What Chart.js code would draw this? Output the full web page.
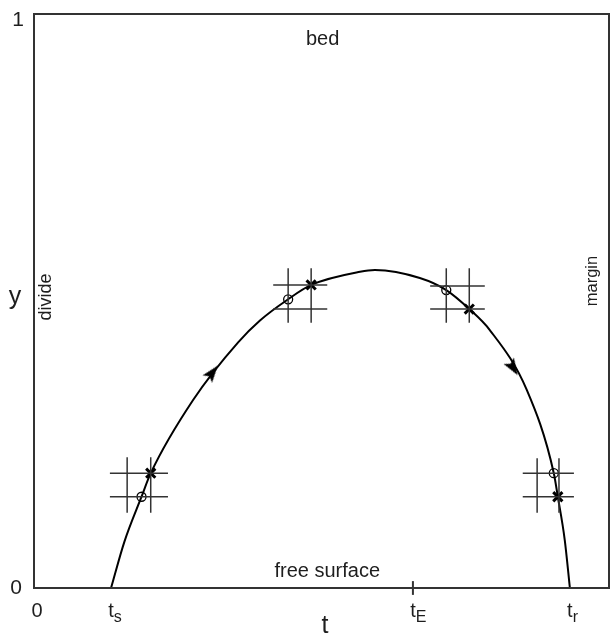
<!DOCTYPE html>
<html>
<head>
<meta charset="utf-8">
<script src="https://cdn.jsdelivr.net/npm/chart.js@4.4.1/dist/chart.umd.min.js"></script>
<style>
  html, body { margin: 0; padding: 0; background: #fff; }
  canvas { display: block; }
</style>
</head>
<body>
<canvas id="traj" width="610" height="637"></canvas>
<script>
/**
 * Particle path through the ice column: t along the flow, y from surface to bed.
 */
const curveT = [0.134, 0.157, 0.187, 0.203, 0.277, 0.355, 0.393, 0.442, 0.482, 0.567, 0.593, 0.671, 0.717, 0.757, 0.793, 0.857, 0.904, 0.911, 0.923, 0.932];
const curveY = [0.000, 0.080, 0.159, 0.200, 0.328, 0.428, 0.466, 0.503, 0.528, 0.551, 0.554, 0.540, 0.519, 0.486, 0.449, 0.345, 0.200, 0.159, 0.084, 0.000];

// open circles and crosses on the path
const circleT = [0.187, 0.442, 0.717, 0.904];
const circleY = [0.159, 0.503, 0.519, 0.200];
const crossT = [0.203, 0.482, 0.757, 0.911];
const crossY = [0.200, 0.528, 0.486, 0.159];

// direction arrows (rotation in degrees, clockwise from up)
const arrowT = [0.310, 0.833];
const arrowY = [0.375, 0.384];
const arrowRot = [38, 148];

// little grids around each pair: two vertical and two horizontal lines
const gridColsT = [[0.162, 0.203], [0.442, 0.482], [0.717, 0.757], [0.875, 0.913]];
const gridColsY = [[0.131, 0.228], [0.462, 0.557], [0.462, 0.557], [0.131, 0.226]];
const gridRowsY = [[0.159, 0.200], [0.486, 0.528], [0.486, 0.526], [0.159, 0.200]];
const gridRowsT = [[0.132, 0.233], [0.416, 0.510], [0.689, 0.784], [0.850, 0.939]];

// axis ticks
const xTickValues = [0, 0.134, 0.659, 0.932, 1];
const xTickMain = ['0', 't', 't', 't', '1'];
const xTickSub = ['', 's', 'E', 'r', ''];
const yTickValues = [0, 1];
const yTickNames = ['0', '1'];
const tickMarkT = 0.659;

const FONT = '"Liberation Sans", Arial, sans-serif';
const INK = '#1e1e1e';

function pts(xs, ys) {
  return xs.map((x, i) => ({ x, y: ys[i] }));
}

function gridSegments() {
  const out = [];
  gridColsT.forEach((cols, i) => {
    cols.forEach(x => {
      out.push({ x, y: gridColsY[i][0] }, { x, y: gridColsY[i][1] }, { x, y: null });
    });
    gridRowsY[i].forEach(y => {
      out.push({ x: gridRowsT[i][0], y }, { x: gridRowsT[i][1], y }, { x: gridRowsT[i][1], y: null });
    });
  });
  return out;
}

/**
 * Arrowhead sprite pointing up, used as pointStyle.
 */
function arrowSprite() {
  const c = document.createElement('canvas');
  c.width = 14; c.height = 18;
  const g = c.getContext('2d');
  g.fillStyle = '#000';
  g.beginPath();
  g.moveTo(7, 0);
  g.lineTo(13, 17);
  g.lineTo(7, 13.5);
  g.lineTo(1, 17);
  g.closePath();
  g.fill();
  return c;
}

function drawText(ctx, txt, x, y, size, align, rot) {
  ctx.save();
  ctx.translate(x, y);
  if (rot) ctx.rotate(rot);
  ctx.font = size + 'px ' + FONT;
  ctx.fillStyle = INK;
  ctx.textAlign = align || 'center';
  ctx.textBaseline = 'middle';
  ctx.fillText(txt, 0, 0);
  ctx.restore();
}

/**
 * Frame, tick labels and the region names.
 */
const decorPlugin = {
  id: 'decor',
  afterDatasetsDraw(chart) {
    const { ctx, chartArea: a } = chart;
    const xs = chart.scales.x;
    const ys = chart.scales.y;
    ctx.save();
    ctx.strokeStyle = '#333';
    ctx.lineWidth = 2;
    ctx.strokeRect(a.left, a.top, a.right - a.left, a.bottom - a.top);

    // x tick labels with subscripts
    xTickValues.forEach((v, i) => {
      let px = xs.getPixelForValue(v);
      if (v === 0) px += 3;
      if (v === 1) px += 6;
      const base = a.bottom + 29;
      ctx.font = '20px ' + FONT;
      ctx.fillStyle = INK;
      ctx.textAlign = 'center';
      ctx.textBaseline = 'alphabetic';
      ctx.fillText(xTickMain[i], px, base);
      if (xTickSub[i]) {
        const w = ctx.measureText(xTickMain[i]).width;
        ctx.font = '16px ' + FONT;
        ctx.textAlign = 'left';
        ctx.fillText(xTickSub[i], px + w / 2, base + 5);
      }
    });
    yTickValues.forEach((v, i) => {
      const py = ys.getPixelForValue(v);
      drawText(ctx, yTickNames[i], v === 1 ? 18 : 16, v === 1 ? py + 6 : py, 21);
    });

    drawText(ctx, 't', xs.getPixelForValue(0.506), a.bottom + 38, 25);
    drawText(ctx, 'y', 15, 297, 25);
    drawText(ctx, 'bed', xs.getPixelForValue(0.502), a.top + 25, 20);
    drawText(ctx, 'free surface', xs.getPixelForValue(0.510), a.bottom - 17, 20);
    drawText(ctx, 'divide', a.left + 12, 297, 18, 'center', -Math.PI / 2);
    drawText(ctx, 'margin', a.right - 17, 281, 16.5, 'center', -Math.PI / 2);
    ctx.restore();
  }
};

new Chart(document.getElementById('traj'), {
  type: 'scatter',
  data: {
    datasets: [
      {
        data: gridSegments(),
        showLine: true,
        spanGaps: false,
        borderColor: '#333',
        borderWidth: 1.5,
        pointRadius: 0,
        tension: 0
      },
      {
        data: pts(curveT, curveY),
        showLine: true,
        borderColor: '#000',
        borderWidth: 2,
        pointRadius: 0,
        cubicInterpolationMode: 'monotone'
      },
      {
        data: [{ x: tickMarkT, y: -0.012 }, { x: tickMarkT, y: 0.012 }],
        showLine: true,
        clip: false,
        borderColor: '#333',
        borderWidth: 2,
        pointRadius: 0
      },
      {
        data: pts(circleT, circleY),
        pointStyle: 'circle',
        pointRadius: 4.5,
        borderColor: '#000',
        borderWidth: 1.3,
        backgroundColor: 'rgba(0,0,0,0)'
      },
      {
        data: pts(crossT, crossY),
        pointStyle: 'crossRot',
        pointRadius: 6.5,
        borderColor: '#000',
        borderWidth: 3
      },
      {
        data: pts(arrowT, arrowY),
        pointStyle: arrowSprite(),
        rotation: arrowRot
      }
    ]
  },
  options: {
    responsive: false,
    animation: false,
    events: [],
    layout: { autoPadding: false, padding: { top: 14, right: 1, left: 0, bottom: 0 } },
    plugins: { legend: { display: false }, tooltip: { enabled: false } },
    scales: {
      x: {
        type: 'linear', min: 0, max: 1,
        grid: { display: false }, border: { display: false },
        ticks: { display: false },
        afterFit(s) { s.height = 49; }
      },
      y: {
        type: 'linear', min: 0, max: 1,
        grid: { display: false }, border: { display: false },
        ticks: { display: false },
        afterFit(s) { s.width = 34; }
      }
    }
  },
  plugins: [decorPlugin]
});
</script>
</body>
</html>
